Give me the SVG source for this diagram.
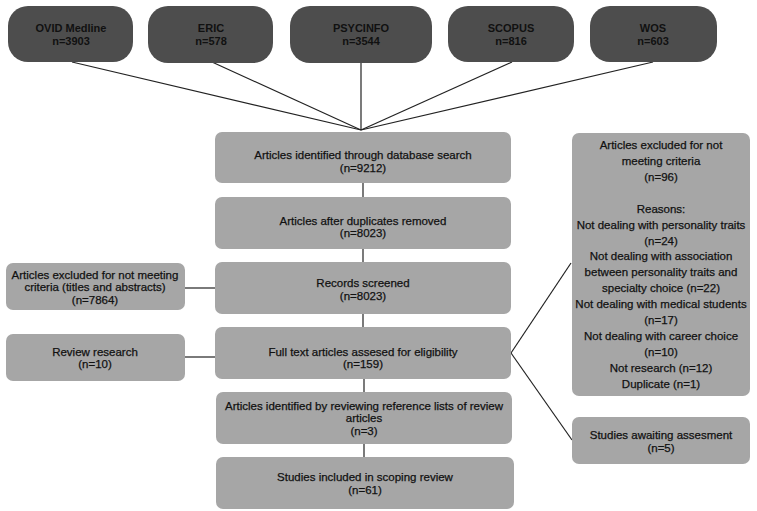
<svg xmlns="http://www.w3.org/2000/svg" width="757" height="511" viewBox="0 0 757 511">
<style>
.db{fill:#4d4d4d}
.bx{fill:#a6a6a6}
.t{font-family:"Liberation Sans",Arial,sans-serif;font-size:11.5px;fill:#111;stroke:#111;stroke-width:0.25;text-anchor:middle}
.tb{font-family:"Liberation Sans",Arial,sans-serif;font-size:11px;font-weight:bold;fill:#111;text-anchor:middle}
.ln{stroke:#222;stroke-width:1.2;fill:none}
</style>
<rect width="757" height="511" fill="#fff"/>
<g id="connectors">
<line class="ln" x1="72" y1="62" x2="361" y2="130"/>
<line class="ln" x1="212" y1="62" x2="361" y2="130"/>
<line class="ln" x1="361" y1="62" x2="361" y2="130"/>
<line class="ln" x1="512" y1="62" x2="361" y2="130"/>
<line class="ln" x1="653" y1="62" x2="361" y2="130"/>
<line class="ln" x1="363" y1="183" x2="363" y2="197"/>
<line class="ln" x1="363" y1="249" x2="363" y2="262"/>
<line class="ln" x1="363" y1="314" x2="363" y2="327"/>
<line class="ln" x1="364" y1="379" x2="364" y2="392"/>
<line class="ln" x1="364" y1="444" x2="364" y2="457"/>
<line class="ln" x1="185" y1="288" x2="215" y2="288"/>
<line class="ln" x1="185" y1="357" x2="215" y2="357"/>
<line class="ln" x1="511" y1="353" x2="571" y2="263"/>
<line class="ln" x1="511" y1="353" x2="572" y2="440"/>
</g>
<g id="ovid"><rect class="db" x="8" y="6" width="125" height="56" rx="20"/><text class="tb" x="71" y="32">OVID Medline</text><text class="tb" x="71" y="45">n=3903</text></g>
<g id="eric"><rect class="db" x="148" y="6" width="125" height="57" rx="20"/><text class="tb" x="211" y="32">ERIC</text><text class="tb" x="211" y="45">n=578</text></g>
<g id="psycinfo"><rect class="db" x="290" y="6" width="142" height="57" rx="20"/><text class="tb" x="361" y="32">PSYCINFO</text><text class="tb" x="361" y="45">n=3544</text></g>
<g id="scopus"><rect class="db" x="448" y="6" width="126" height="56" rx="20"/><text class="tb" x="511" y="32">SCOPUS</text><text class="tb" x="511" y="45">n=816</text></g>
<g id="wos"><rect class="db" x="590" y="6" width="127" height="56" rx="20"/><text class="tb" x="653" y="32">WOS</text><text class="tb" x="653" y="45">n=603</text></g>
<g id="identified"><rect class="bx" x="215" y="132" width="296" height="51" rx="7"/><text class="t" x="363" y="159">Articles identified through database search</text><text class="t" x="363" y="172">(n=9212)</text></g>
<g id="dedup"><rect class="bx" x="215" y="197" width="296" height="52" rx="7"/><text class="t" x="363" y="225">Articles after duplicates removed</text><text class="t" x="363" y="237">(n=8023)</text></g>
<g id="screened"><rect class="bx" x="215" y="262" width="296" height="52" rx="7"/><text class="t" x="363" y="287">Records screened</text><text class="t" x="363" y="300">(n=8023)</text></g>
<g id="fulltext"><rect class="bx" x="215" y="327" width="296" height="52" rx="7"/><text class="t" x="363" y="356">Full text articles assesed for eligibility</text><text class="t" x="363" y="368">(n=159)</text></g>
<g id="reflists"><rect class="bx" x="216" y="392" width="296" height="52" rx="7"/><text class="t" x="364" y="410">Articles identified by reviewing reference lists of review</text><text class="t" x="364" y="422">articles</text><text class="t" x="364" y="435">(n=3)</text></g>
<g id="included"><rect class="bx" x="216" y="457" width="298" height="52" rx="7"/><text class="t" x="365" y="481">Studies included in scoping review</text><text class="t" x="365" y="494">(n=61)</text></g>
<g id="excl-ta"><rect class="bx" x="6" y="263" width="179" height="47" rx="7"/><text class="t" x="95" y="279">Articles excluded for not meeting</text><text class="t" x="95" y="291">criteria (titles and abstracts)</text><text class="t" x="95" y="304">(n=7864)</text></g>
<g id="review"><rect class="bx" x="6" y="334" width="179" height="47" rx="7"/><text class="t" x="95" y="356">Review research</text><text class="t" x="95" y="368">(n=10)</text></g>
<g id="excl-ft"><rect class="bx" x="572" y="133" width="178" height="263" rx="7"/>
<text class="t" x="661" y="149">Articles excluded for not</text>
<text class="t" x="661" y="165">meeting criteria</text>
<text class="t" x="661" y="181">(n=96)</text>
<text class="t" x="661" y="213">Reasons:</text>
<text class="t" x="661" y="229">Not dealing with personality traits</text>
<text class="t" x="661" y="245">(n=24)</text>
<text class="t" x="661" y="260">Not dealing with association</text>
<text class="t" x="661" y="276">between personality traits and</text>
<text class="t" x="661" y="292">specialty choice (n=22)</text>
<text class="t" x="661" y="308">Not dealing with medical students</text>
<text class="t" x="661" y="324">(n=17)</text>
<text class="t" x="661" y="340">Not dealing with career choice</text>
<text class="t" x="661" y="356">(n=10)</text>
<text class="t" x="661" y="372">Not research (n=12)</text>
<text class="t" x="661" y="388">Duplicate (n=1)</text>
</g>
<g id="awaiting"><rect class="bx" x="572" y="417" width="178" height="47" rx="7"/><text class="t" x="661" y="439">Studies awaiting assesment</text><text class="t" x="661" y="452">(n=5)</text></g>
</svg>
